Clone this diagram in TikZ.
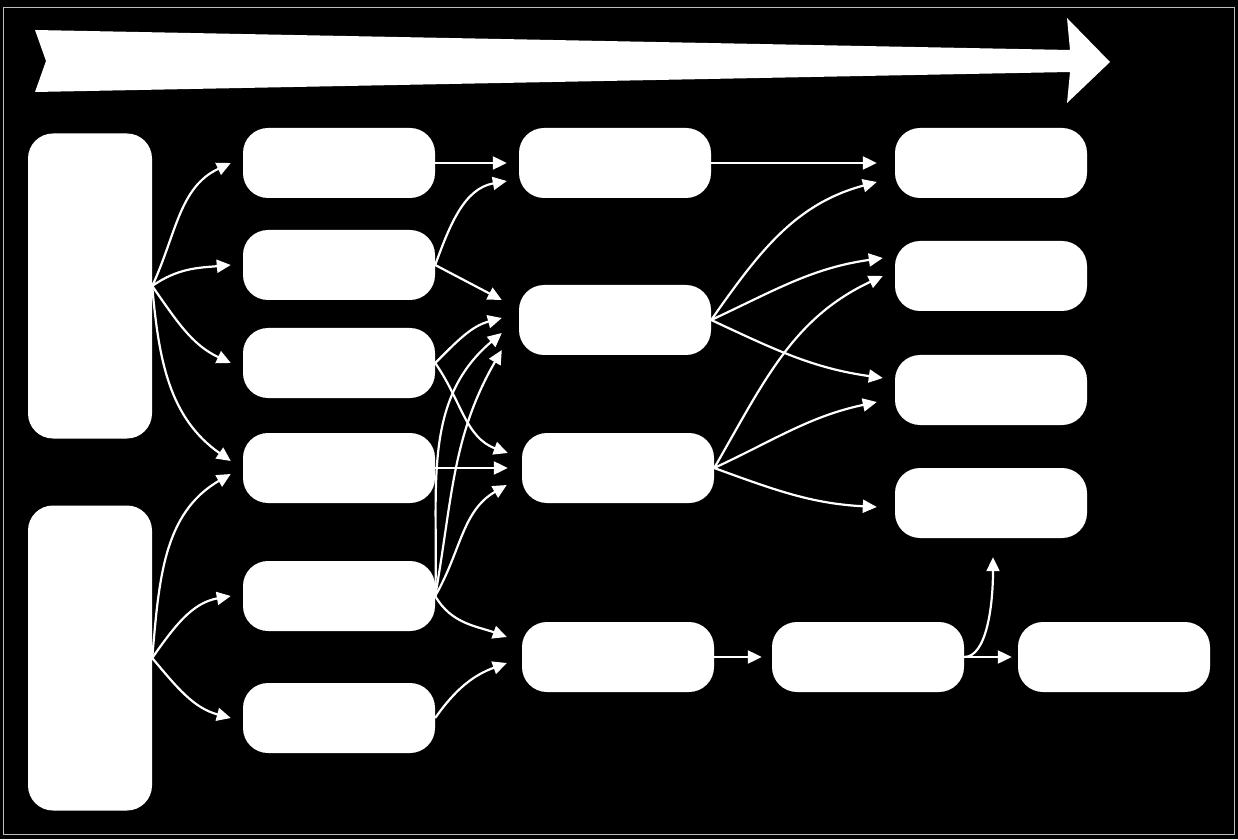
\documentclass[tikz,border=0pt]{standalone}
\usetikzlibrary{arrows.meta}
\definecolor{FrameGray}{RGB}{190, 190, 190}

\begin{document}
\begin{tikzpicture}[x=1pt, y=1pt,
  box/.style={fill=white, rounded corners=25pt, minimum width=192pt, minimum height=70pt, inner sep=0pt},
  tallbox/.style={box, minimum width=124pt, minimum height=305pt},
  conn/.style={white, line width=2.2pt, -{Triangle[length=14pt, width=13pt]}}]

% Background and frame
\fill[black] (0,0) rectangle (1238,839);
\useasboundingbox (0,0) rectangle (1238,839);
\draw[FrameGray, line width=1pt] (3,5) rectangle (1234,831);

% Big arrow on top
\fill[white] (35,809) -- (1070,789) -- (1067,821) -- (1110,777) -- (1067,736)
  -- (1070,767) -- (35,747) -- (46,778) -- cycle;

% Left column
\node[tallbox] (in1) at (90,553) {};
\node[tallbox] (in2) at (90,181) {};

% Second column
\node[box] (a1) at (339,676) {};
\node[box] (a2) at (339,574) {};
\node[box] (a3) at (339,476) {};
\node[box] (a4) at (339,371) {};
\node[box] (a5) at (339,243) {};
\node[box] (a6) at (339,121) {};

% Third column
\node[box] (b1) at (615,676) {};
\node[box] (b2) at (615,519) {};
\node[box] (b3) at (618,371) {};
\node[box] (b4) at (618,182) {};

% Fourth column
\node[box] (c1) at (991,676) {};
\node[box] (c2) at (991,563) {};
\node[box] (c3) at (991,449) {};
\node[box] (c4) at (991,336) {};

% Bottom chain
\node[box] (d2) at (868,182) {};
\node[box] (d3) at (1114,182) {};

% From the left column
\draw[conn] (in1.east) to[out=65, in=205] ([xshift=-12]a1.west);
\draw[conn] (in1.east) to[out=35, in=185] ([xshift=-12]a2.west);
\draw[conn] (in1.east) to[out=-55, in=155] ([xshift=-12]a3.west);
\draw[conn] (in1.east) to[out=-85, in=145] ([shift={(-12,7)}]a4.west);

\draw[conn] (in2.east) to[out=85, in=210] ([shift={(-12,-6)}]a4.west);
\draw[conn] (in2.east) to[out=55, in=190] ([xshift=-12]a5.west);
\draw[conn] (in2.east) to[out=-50, in=165] ([xshift=-12]a6.west);

% Second to third column
\draw[conn] (a1.east) -- ([xshift=-12]b1.west);
\draw[conn] (a2.east) to[out=70, in=190] ([shift={(-12,-18)}]b1.west);
\draw[conn] (a2.east) -- ([shift={(-17,20)}]b2.west);
\draw[conn] (a3.east) to[out=45, in=195] ([shift={(-17,2)}]b2.west);
\draw[conn] (a3.east) to[out=-55, in=160] ([shift={(-14,15)}]b3.west);
\draw[conn] (a4.east) -- ([xshift=-14]b3.west);
\draw[conn] (a5.east) to[out=88, in=220] ([shift={(-17,-13)}]b2.west);
\draw[conn] (a5.east) to[out=80, in=240] ([shift={(-17,-30)}]b2.west);
\draw[conn] (a5.east) to[out=60, in=210] ([shift={(-15,-17)}]b3.west);
\draw[conn] (a5.east) to[out=-60, in=160] ([shift={(-15,20)}]b4.west);
\draw[conn] (a6.east) to[out=55, in=200] ([shift={(-15,-6)}]b4.west);

% Third to fourth column
\draw[conn] (b1.east) -- ([xshift=-18]c1.west);
\draw[conn] (b2.east) to[out=55, in=195] ([shift={(-18,-19)}]c1.west);
\draw[conn] (b2.east) to[out=25, in=188] ([shift={(-12,18)}]c2.west);
\draw[conn] (b2.east) to[out=-25, in=172] ([shift={(-12,12)}]c3.west);
\draw[conn] (b3.east) to[out=60, in=205] ([xshift=-12]c2.west);
\draw[conn] (b3.east) to[out=25, in=192] ([shift={(-18,-12)}]c3.west);
\draw[conn] (b3.east) to[out=-20, in=177] ([shift={(-18,-4)}]c4.west);

% Bottom row
\draw[conn] (b4.east) -- ([xshift=-10]d2.west);
\draw[conn] (d2.east) -- ([xshift=-6]d3.west);
\draw[conn] (d2.east) .. controls +(22,0) and +(0,-50) .. ([shift={(2,-19)}]c4.south);

\end{tikzpicture}
\end{document}
